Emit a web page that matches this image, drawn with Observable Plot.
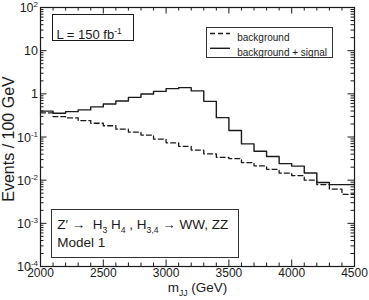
<!DOCTYPE html>
<html><head><meta charset="utf-8">
<script src="https://cdn.jsdelivr.net/npm/d3@7"></script>
<script src="https://cdn.jsdelivr.net/npm/@observablehq/plot@0.6"></script>
<style>body{margin:0;background:#fff} svg{display:block}</style>
</head><body><div id="chart"></div>
<script>
// ---- data ----
const binLow = [2000,2100,2200,2300,2400,2500,2600,2700,2800,2900,3000,3100,3200,3300,3400,3500,3600,3700,3800,3900,4000,4100,4200,4300,4400];
const binWidth = 100;
const background = [0.361,0.297,0.277,0.240,0.208,0.182,0.152,0.130,0.111,0.0894,0.0734,0.0609,0.0498,0.0406,0.0339,0.0316,0.0256,0.0214,0.0178,0.0146,0.0128,0.0100,0.0079,0.0062,0.0047];
const backgroundPlusSignal = [0.398,0.354,0.387,0.424,0.498,0.583,0.685,0.830,0.995,1.14,1.32,1.39,1.17,0.670,0.281,0.141,0.0692,0.0467,0.0352,0.0242,0.0212,0.0146,0.0088,0.0079,0.0079];
const seriesNames = ["background", "background + signal"];
const xTickValues = [2000,2500,3000,3500,4000,4500];
const xTickLabels = ["2000","2500","3000","3500","4000","4500"];
const yTickValues = [100,10,1,0.1,0.01,0.001,0.0001];
const yTickLabels = ["10^{2}","10","1","10^{-1}","10^{-2}","10^{-3}","10^{-4}"];
const xTitle = "m_{JJ} (GeV)";
const yTitle = "Events / 100 GeV";
const lumiText = "L = 150 fb^{-1}";
const processText = "Z′ →  H_{3} H_{4} , H_{3,4} → WW, ZZ";
const modelText = "Model 1";

// ---- layout ----
const W = 369, H = 300, mL = 40, mR = 15, mT = 7, mB = 34;
const fw = W - mL - mR, fh = H - mT - mB;
const ink = "#1a1a1a";
const font = "'Liberation Sans', Arial, Helvetica, sans-serif";
const majTick = 6.5, minTick = 3.5;

const minorX = d3.range(binLow[0], binLow[binLow.length-1] + binWidth + 1, binWidth).filter(v => !xTickValues.includes(v));
const minorY = [];
for (let e = -4; e < 2; e++) for (let m = 2; m <= 9; m++) minorY.push(m * Math.pow(10, e));

const steps = vals => binLow.map((x, i) => ({x, y: vals[i]}))
  .concat([{x: binLow[binLow.length-1] + binWidth, y: vals[vals.length-1]}]);

const svg = Plot.plot({
  width: W, height: H,
  marginLeft: mL, marginRight: mR, marginTop: mT, marginBottom: mB,
  style: {fontFamily: font, background: "white", color: ink},
  x: {domain: [binLow[0], binLow[binLow.length-1] + binWidth], axis: null},
  y: {type: "log", domain: [1e-4, 1e2], axis: null},
  marks: [
    // data
    Plot.line(steps(background), {x: "x", y: "y", curve: "step-after", stroke: ink, strokeWidth: 1.3, strokeDasharray: "5,3"}),
    Plot.line(steps(backgroundPlusSignal), {x: "x", y: "y", curve: "step-after", stroke: ink, strokeWidth: 1.4}),
    // ticks (inward, all four sides)
    Plot.tickX(xTickValues, {x: d => d, insetTop: fh - majTick, stroke: ink}),
    Plot.tickX(xTickValues, {x: d => d, insetBottom: fh - majTick, stroke: ink}),
    Plot.tickX(minorX, {x: d => d, insetTop: fh - minTick, stroke: ink}),
    Plot.tickX(minorX, {x: d => d, insetBottom: fh - minTick, stroke: ink}),
    Plot.tickY(yTickValues, {y: d => d, insetRight: fw - majTick, stroke: ink}),
    Plot.tickY(yTickValues, {y: d => d, insetLeft: fw - majTick, stroke: ink}),
    Plot.tickY(minorY, {y: d => d, insetRight: fw - minTick, stroke: ink}),
    Plot.tickY(minorY, {y: d => d, insetLeft: fw - minTick, stroke: ink}),
    Plot.frame({stroke: ink, strokeWidth: 1.2}),
    // tick labels
    Plot.text(xTickValues, {x: d => d, text: (d, i) => xTickLabels[i], frameAnchor: "bottom", dy: 10.5, fontSize: 12, fill: ink}),
    Plot.text(yTickValues, {y: d => d, text: (d, i) => yTickLabels[i], frameAnchor: "left", dx: -2.5, dy: 0.5, textAnchor: "end", fontSize: 12.5, fill: ink}),
    // axis titles
    Plot.text([xTitle], {text: d => d, frameAnchor: "bottom", dy: 25, textAnchor: "middle", fontSize: 13.5, fill: ink}),
    Plot.text([yTitle], {text: d => d, frameAnchor: "left", dx: -32, dy: 2, rotate: -90, textAnchor: "middle", fontSize: 16, fill: ink}),
    // annotation boxes
    Plot.frame({insetLeft: 12, insetRight: 221, insetTop: 7, insetBottom: 226, stroke: ink, strokeWidth: 1}),
    Plot.text([lumiText], {text: d => d, frameAnchor: "top-left", dx: 16, dy: 22.5, textAnchor: "start", fontSize: 13, fill: ink}),
    Plot.frame({insetLeft: 166, insetRight: 22, insetTop: 20, insetBottom: 209, stroke: "#333", strokeWidth: 1}),
    Plot.text([seriesNames[0]], {text: d => d, frameAnchor: "top-left", dx: 196.7, dy: 26.5, textAnchor: "start", fontSize: 10, fill: ink}),
    Plot.text([seriesNames[1]], {text: d => d, frameAnchor: "top-left", dx: 196.7, dy: 41.3, textAnchor: "start", fontSize: 10, fill: ink}),
    Plot.frame({insetLeft: 11, insetRight: 116, insetTop: 202, insetBottom: 9, stroke: "#333", strokeWidth: 1}),
    Plot.text([processText], {text: d => d, frameAnchor: "top-left", dx: 16.7, dy: 212.3, textAnchor: "start", fontSize: 13.5, fill: ink}),
    Plot.text([modelText], {text: d => d, frameAnchor: "top-left", dx: 16.7, dy: 230.3, textAnchor: "start", fontSize: 13.5, fill: ink})
  ]
});
document.getElementById("chart").appendChild(svg);

// legend keys
const key = d3.select(svg).append("g").attr("stroke", ink).attr("fill", "none");
key.append("line").attr("x1", mL + 170).attr("x2", mL + 190).attr("y1", mT + 26.5).attr("y2", mT + 26.5)
  .attr("stroke-width", 1.3).attr("stroke-dasharray", "5,3");
key.append("line").attr("x1", mL + 170).attr("x2", mL + 190).attr("y1", mT + 41.3).attr("y2", mT + 41.3)
  .attr("stroke-width", 1.4);

// render ^{..} and _{..} as raised / lowered text
d3.select(svg).selectAll("text").each(function() {
  const s = this.textContent;
  if (!/[\^_]\{/.test(s)) return;
  const fs = parseFloat(getComputedStyle(this).fontSize) || 12;
  const sel = d3.select(this);
  sel.text("");
  const re = /([\^_])\{([^}]*)\}/g;
  let last = 0, m, cur = 0;
  const add = (str, kind) => {
    if (!str) return;
    const target = kind === "^" ? -0.38 * fs : kind === "_" ? 0.3 * fs : 0;
    const t = sel.append("tspan").text(str).attr("dy", target - cur);
    if (kind) t.attr("font-size", (0.64 * fs) + "px");
    cur = target;
  };
  while ((m = re.exec(s))) {
    add(s.slice(last, m.index), null);
    add(m[2], m[1]);
    last = re.lastIndex;
  }
  add(s.slice(last), null);
});
</script>
</body></html>
